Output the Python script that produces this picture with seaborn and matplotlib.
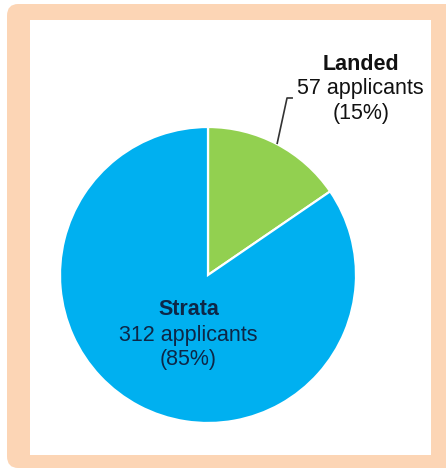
import numpy as np
import matplotlib
matplotlib.use("Agg")
import matplotlib.pyplot as plt
from matplotlib.patches import FancyBboxPatch, Rectangle
import seaborn as sns

# data
categories = ["Landed", "Strata"]
applicants = [57, 312]
percent_labels = ["(15%)", "(85%)"]
colors = ["#92D050", "#00B0F0"]

sns.set_theme(style="white")
plt.rcParams['font.family'] = ['Liberation Sans', 'DejaVu Sans']

W, H = 446, 469
fig = plt.figure(figsize=(W / 100, H / 100), dpi=100)
fig.patch.set_facecolor("white")

def fx(px):
    return px / W

def fy(py):
    return 1 - py / H

frame = FancyBboxPatch((fx(7), fy(468)), fx(460) - fx(7), fy(4) - fy(468),
                       boxstyle="round,pad=0,rounding_size=0.025",
                       transform=fig.transFigure, facecolor="#FCD5B5",
                       edgecolor="none", zorder=0)
fig.patches.append(frame)
panel = Rectangle((fx(30), fy(455)), fx(431) - fx(30), fy(20) - fy(455),
                  transform=fig.transFigure, facecolor="white",
                  edgecolor="none", zorder=0.5)
fig.patches.append(panel)

cx, cy, r = 208, 275, 148
ax = fig.add_axes([fx(cx - r), fy(cy + r), 2 * r / W, 2 * r / H])
ax.set_zorder(5)
ax.set_facecolor("none")
wedges, _ = ax.pie(applicants, colors=colors, startangle=90, counterclock=False,
                   wedgeprops=dict(edgecolor="white", linewidth=1.6))
ax.set_xlim(-1, 1)
ax.set_ylim(-1, 1)
ax.set_aspect("equal")
ax.axis("off")

fs = 15.5
w0 = wedges[0]
mid = np.deg2rad((w0.theta1 + w0.theta2) / 2)
p0 = (np.cos(mid), np.sin(mid))
ax.plot([p0[0], 0.534, 0.574], [p0[1], 1.196, 1.196], color="#333333",
        lw=1.2, clip_on=False, solid_capstyle="butt")
lx = 1.032
ax.text(lx, 1.385, categories[0], ha="center", va="baseline", fontsize=fs,
        fontweight="bold", color="#111111", clip_on=False)
ax.text(lx, 1.220, f"{applicants[0]} applicants", ha="center", va="baseline",
        fontsize=fs, color="#111111", clip_on=False)
ax.text(lx, 1.054, percent_labels[0], ha="center", va="baseline", fontsize=fs,
        color="#111111", clip_on=False)

sx = -0.132
tc = "#0d2747"
ax.text(sx, -0.270, categories[1], ha="center", va="baseline", fontsize=fs,
        fontweight="bold", color=tc)
ax.text(sx, -0.446, f"{applicants[1]} applicants", ha="center", va="baseline",
        fontsize=fs, color=tc)
ax.text(sx, -0.608, percent_labels[1], ha="center", va="baseline", fontsize=fs,
        color=tc)

fig.savefig("out.png", dpi=100, facecolor=fig.get_facecolor())
